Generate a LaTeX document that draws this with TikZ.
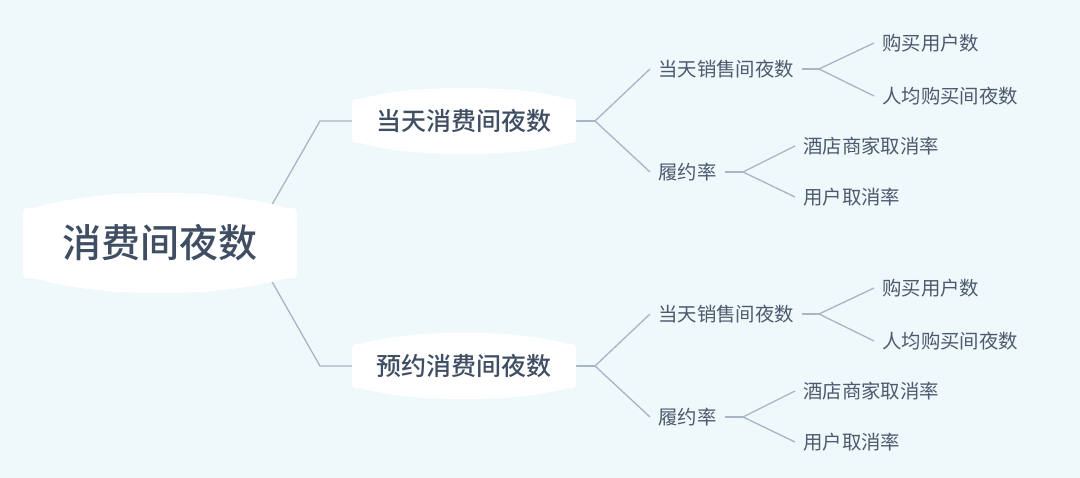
\documentclass[tikz,border=0pt]{standalone}
\usepackage{fontspec}
\setmainfont{Noto Sans CJK SC}
\newfontfamily\medfont{Noto Sans CJK SC Medium}
\usetikzlibrary{calc,backgrounds}
\definecolor{bgc}{HTML}{EFF8FB}
\definecolor{linec}{HTML}{A8B5C5}
\definecolor{textdark}{HTML}{3F4E63}
\definecolor{textleaf}{HTML}{4B5A6E}
\newcommand\bulgebox[3]{%
 \fill[white] let \p1=(#1.north west), \p2=(#1.south east), \n1={(\x2-\x1-2*#3)/4} in
 (\x1,\y1-#3) -- (\x1,\y2+#3) .. controls (\x1,\y2) .. (\x1+#3,\y2)
 .. controls (\x1+#3+\n1,\y2-1.333*#2) and (\x2-#3-\n1,\y2-1.333*#2) .. (\x2-#3,\y2)
 .. controls (\x2,\y2) .. (\x2,\y2+#3) -- (\x2,\y1-#3)
 .. controls (\x2,\y1) .. (\x2-#3,\y1)
 .. controls (\x2-#3-\n1,\y1+1.333*#2) and (\x1+#3+\n1,\y1+1.333*#2) .. (\x1+#3,\y1)
 .. controls (\x1,\y1) .. cycle;}
\begin{document}
\begin{tikzpicture}[x=1pt,y=-1pt,
  rootn/.style={minimum width=274pt, minimum height=70pt, inner sep=0pt, text=textdark,
     font=\fontsize{39}{39}\selectfont\medfont},
  subn/.style={minimum width=224pt, minimum height=44pt, inner sep=0pt, text=textdark,
     font=\fontsize{25}{25}\selectfont\medfont},
  leaf/.style={anchor=west, inner xsep=8pt, inner ysep=2pt, text=textleaf,
     font=\fontsize{19.4}{19.4}\selectfont},
  conn/.style={draw=linec, line width=1.3pt, line join=round}]
\useasboundingbox (0,0) rectangle (1080,478);
% nodes
\node[rootn] (root) at (160,243) {消费间夜数};
\node[subn] (s1) at (464,121) {当天消费间夜数};
\node[subn] (s2) at (464,366) {预约消费间夜数};
\node[leaf] (a1) at (650,69) {当天销售间夜数};
\node[leaf] (a2) at (650,172) {履约率};
\node[leaf] (a11) at (874,43) {购买用户数};
\node[leaf] (a12) at (874,96) {人均购买间夜数};
\node[leaf] (a21) at (795,146) {酒店商家取消率};
\node[leaf] (a22) at (795,197) {用户取消率};
\node[leaf] (b1) at (650,314) {当天销售间夜数};
\node[leaf] (b2) at (650,417) {履约率};
\node[leaf] (b11) at (874,288) {购买用户数};
\node[leaf] (b12) at (874,341) {人均购买间夜数};
\node[leaf] (b21) at (795,391) {酒店商家取消率};
\node[leaf] (b22) at (795,442) {用户取消率};
% junction coordinates
\coordinate (rj) at (250,243);
\coordinate (e1) at (320,121);
\coordinate (e2) at (320,366);
\coordinate (j1) at (595,121);
\coordinate (j2) at (595,366);
\coordinate (j11) at (819,69);
\coordinate (j12) at (743,172);
\coordinate (j21) at (819,314);
\coordinate (j22) at (743,417);
\begin{scope}[on background layer]
\fill[bgc] (0,0) rectangle (1080,478);
\draw[conn] (rj) -- (e1) -- (s1.west);
\draw[conn] (rj) -- (e2) -- (s2.west);
\draw[conn] (s1.east) -- (j1);
\draw[conn] (j1) -- (a1.west);
\draw[conn] (j1) -- (a2.west);
\draw[conn] (a1.east) -- (j11);
\draw[conn] (j11) -- (a11.west);
\draw[conn] (j11) -- (a12.west);
\draw[conn] (a2.east) -- (j12);
\draw[conn] (j12) -- (a21.west);
\draw[conn] (j12) -- (a22.west);
\draw[conn] (s2.east) -- (j2);
\draw[conn] (j2) -- (b1.west);
\draw[conn] (j2) -- (b2.west);
\draw[conn] (b1.east) -- (j21);
\draw[conn] (j21) -- (b11.west);
\draw[conn] (j21) -- (b12.west);
\draw[conn] (b2.east) -- (j22);
\draw[conn] (j22) -- (b21.west);
\draw[conn] (j22) -- (b22.west);
\bulgebox{root}{15pt}{12pt}
\bulgebox{s1}{11pt}{9pt}
\bulgebox{s2}{11pt}{9pt}
\end{scope}
\end{tikzpicture}
\end{document}
